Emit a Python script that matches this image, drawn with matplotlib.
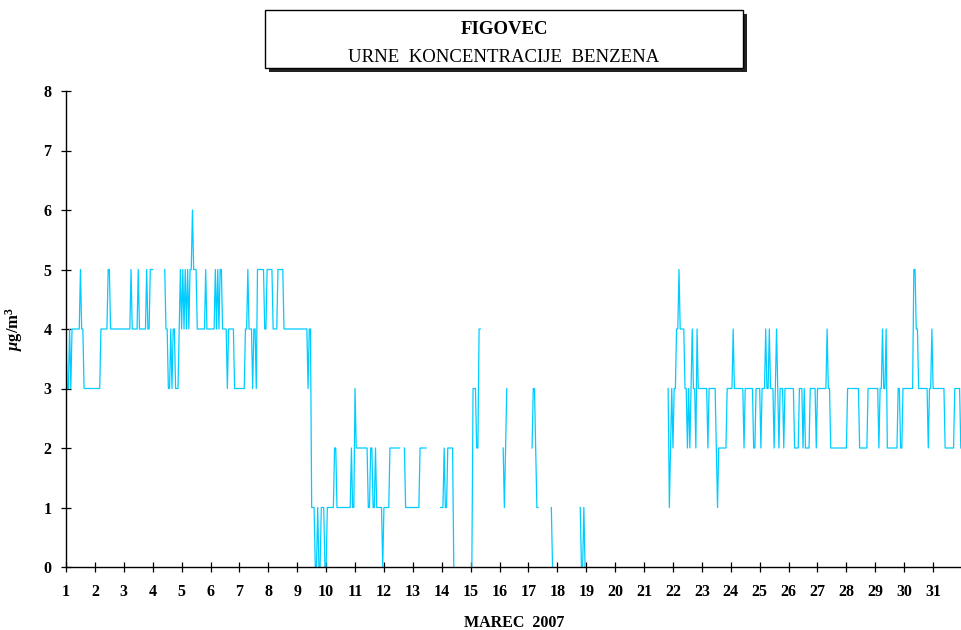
import numpy as np
import matplotlib
matplotlib.use("Agg")
import matplotlib.pyplot as plt
from matplotlib.patches import Rectangle

N = np.nan

# urne koncentracije benzena (ug/m3), 24 vrednosti na dan, N = ni podatka
mar01 = [4, 3, 3, 4, 3, 4, 4, 4, 4, 4, 4, 4, 5, 4, 4, 3, 3, 3, 3, 3, 3, 3, 3, 3]
mar02 = [3, 3, 3, 3, 3, 4, 4, 4, 4, 4, 4, 5, 5, 4, 4, 4, 4, 4, 4, 4, 4, 4, 4, 4]
mar03 = [4, 4, 4, 4, 4, 4, 5, 4, 4, 4, 4, 4, 5, 4, 4, 4, 4, 4, 4, 5, 4, 4, 5, 5]
mar04 = [5] + [N] * 9 + [5, 4, 4, 3, 3, 4, 3, 4, 4, 3, 3, 3, 4, 5]
mar05 = [4, 5, 4, 5, 4, 5, 4, 5, 5, 6, 5, 5, 5, 4, 4, 4, 4, 4, 4, 4, 5, 4, 4, 4]
mar06 = [4, 4, 4, 4, 5, 4, 5, 4, 5, 5, 4, 4, 4, 4, 3, 4, 4, 4, 4, 4, 3, 3, 3, 3]
mar07 = [3, 3, 3, 3, 3, 4, 4, 5, 4, 4, 4, 3, 4, 4, 3, 5, 5, 5, 5, 5, 5, 4, 4, 5]
mar08 = [5, 5, 5, 5, 4, 4, 4, 4, 5, 5, 5, 5, 5, 4, 4, 4, 4, 4, 4, 4, 4, 4, 4, 4]
mar09 = [4, 4, 4, 4, 4, 4, 4, 4, 4, 3, 4, 4, 1, 1, 1, 0, 0, 1, 0, 0, 1, 1, 1, 0]
mar10 = [0, 1, 1, 1, 1, 1, 1, 2, 2, 1, 1, 1, 1, 1, 1, 1, 1, 1, 1, 1, 1, 2, 1, 1]
mar11 = [3, 2, 2, 2, 2, 2, 2, 2, 2, 2, 2, 1, 1, 2, 2, 1, 1, 2, 1, 1, 1, 1, 1, 0]
mar12 = [1, 1, 1, 1, 1, 2, 2, 2, 2, 2, 2, 2, 2, 2, N, N, N, 2, 1, 1, 1, 1, 1, 1]
mar13 = [1, 1, 1, 1, 1, 1, 2, 2, 2, 2, 2, 2] + [N] * 11 + [1]
mar14 = [1, 1, 2, 1, 1, 2, 2, 2, 2, 2, 0] + [N] * 13
mar15 = [N, 0, 3, 3, 3, 2, 2, 4, 4] + [N] * 15
mar16 = [N, N, N, 2, 1, 2, 3] + [N] * 17
mar17 = [N, N, N, 2, 3, 3, 2, 1, 1] + [N] * 10 + [1, 0, N, N, N]
mar18 = [N] * 19 + [1, 0, 0, 1, 0]
mar19 = [N] * 24
mar20 = [N] * 24
mar21 = [N] * 20 + [3, 1, 2, 3]
mar22 = [2, 3, 3, 4, 4, 5, 4, 4, 4, 4, 3, 3, 2, 3, 2, 3, 4, 3, 3, 2, 4, 3, 3, 3]
mar23 = [3, 3, 3, 3, 3, 2, 3, 3, 3, 3, 3, 3, 2, 1, 2, 2, 2, 2, 2, 2, 2, 3, 3, 3]
mar24 = [3, 3, 4, 3, 3, 3, 3, 3, 3, 3, 3, 2, 3, 3, 3, 3, 3, 3, 3, 2, 2, 3, 3, 3]
mar25 = [3, 2, 3, 3, 3, 4, 3, 3, 4, 3, 3, 3, 2, 3, 4, 3, 2, 3, 3, 3, 2, 3, 3, 3]
mar26 = [3, 3, 3, 3, 3, 2, 2, 2, 2, 3, 3, 3, 2, 3, 2, 2, 2, 2, 3, 3, 3, 3, 3, 2]
mar27 = [3, 3, 3, 3, 3, 3, 3, 3, 4, 3, 3, 2, 2, 2, 2, 2, 2, 2, 2, 2, 2, 2, 2, 2]
mar28 = [2, 3, 3, 3, 3, 3, 3, 3, 3, 3, 3, 2, 2, 2, 2, 2, 2, 2, 3, 3, 3, 3, 3, 3]
mar29 = [3, 3, 3, 2, 3, 3, 4, 3, 3, 4, 2, 2, 2, 2, 2, 2, 2, 2, 2, 3, 3, 2, 2, 3]
mar30 = [3, 3, 3, 3, 3, 3, 3, 3, 5, 5, 4, 4, 3, 3, 3, 3, 3, 3, 3, 3, 2, 3, 3, 4]
mar31 = [3, 3, 3, 3, 3, 3, 3, 3, 3, 3, 2, 2, 2, 2, 2, 2, 2, 2, 3, 3, 3, 3, 3, 2]

days = [mar01, mar02, mar03, mar04, mar05, mar06, mar07, mar08, mar09, mar10,
        mar11, mar12, mar13, mar14, mar15, mar16, mar17, mar18, mar19, mar20,
        mar21, mar22, mar23, mar24, mar25, mar26, mar27, mar28, mar29, mar30, mar31]
day_labels = [str(d) for d in range(1, 32)]

benzen = np.array(sum(days, []), dtype=float)
t = 1 + np.arange(len(benzen)) / 24.0

plt.rcParams["font.family"] = ["Liberation Serif", "DejaVu Serif"]
plt.rcParams["mathtext.fontset"] = "custom"
plt.rcParams["mathtext.rm"] = "Liberation Serif:bold"
plt.rcParams["mathtext.it"] = "Liberation Serif:italic:bold"
plt.rcParams["mathtext.bf"] = "Liberation Serif:bold"

fig = plt.figure(figsize=(9.62, 6.30), dpi=100)
ax = fig.add_axes([66 / 962, 63 / 630, 896 / 962, 476 / 630])

ax.plot(t, benzen, color="#00CCFF", lw=0.9)

ax.set_xlim(1, 32)
ax.set_ylim(0, 8)
ax.set_xticks(range(1, 32))
ax.set_xticklabels(day_labels)
ax.set_yticks(range(0, 9))
ax.tick_params(direction="inout", length=7, width=0.9, labelsize=11.5)
ax.tick_params(axis="x", pad=9)
ax.tick_params(axis="y", pad=7)
for lab in ax.get_xticklabels() + ax.get_yticklabels():
    lab.set_fontweight("bold")

ax.spines["top"].set_visible(False)
for s in ("left", "bottom", "right"):
    ax.spines[s].set_linewidth(1.0)

ax.set_xlabel("MAREC  2007", fontsize=11.5, fontweight="bold", labelpad=10.5)
ax.set_ylabel(r"$\mathit{\mu}\mathrm{g/m}^{3}$", fontsize=12)
ax.yaxis.set_label_coords(-0.046, 0.5)

# okvir z naslovom in senco
x0, y0, w, h = 265 / 962, 562 / 630, 478 / 962, 58 / 630
fig.add_artist(Rectangle((x0 + 4 / 962, y0 - 4 / 630), w, h, transform=fig.transFigure,
                         facecolor="#222222", edgecolor="none"))
fig.add_artist(Rectangle((x0, y0), w, h, transform=fig.transFigure,
                         facecolor="white", edgecolor="black", lw=1.0))
fig.text(x0 + w / 2, 1 - 29 / 630, "FIGOVEC", ha="center", va="center",
         fontsize=13.5, fontweight="bold")
fig.text(x0 + w / 2, 1 - 57 / 630, "URNE  KONCENTRACIJE  BENZENA", ha="center", va="center",
         fontsize=13.5)

fig.savefig("out.png", dpi=100)
